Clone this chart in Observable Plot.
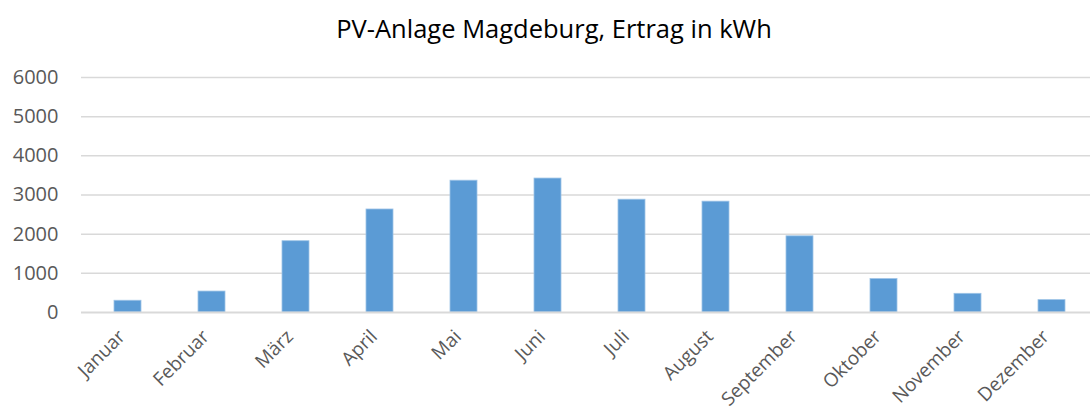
<!DOCTYPE html>
<html>
<head>
<meta charset="utf-8">
<script src="https://cdn.jsdelivr.net/npm/d3@7"></script>
<script src="https://cdn.jsdelivr.net/npm/@observablehq/plot@0.6"></script>
<style>
  html, body { margin: 0; padding: 0; background: #fff; overflow: hidden; }
  #title { height: 60px; width: 1090px; font-family: "Open Sans", sans-serif; font-size: 25.5px; color: #000;
           text-align: center; box-sizing: border-box; padding-left: 18px; line-height: 56px; }
  #chart svg { display: block; }
</style>
</head>
<body>
<div id="title">PV-Anlage Magdeburg, Ertrag in kWh</div>
<div id="chart"></div>
<script>
const months = ["Januar","Februar","März","April","Mai","Juni","Juli","August","September","Oktober","November","Dezember"];
const ertrag = [300, 535, 1820, 2630, 3365, 3420, 2880, 2830, 1945, 853, 477, 316];
const yTicks = [0, 1000, 2000, 3000, 4000, 5000, 6000];

const data = months.map((m, i) => ({month: m, value: ertrag[i]}));

const chart = Plot.plot({
  width: 1090,
  height: 356,
  marginLeft: 81,
  marginRight: -7,
  marginTop: 17,
  marginBottom: 104,
  style: {fontFamily: "'Open Sans', sans-serif", color: "#595959", background: "#fff"},
  x: {domain: months, paddingInner: 0.68, paddingOuter: 0.34, label: null},
  y: {domain: [0, 6000], ticks: yTicks, label: null},
  marks: [
    Plot.gridY(yTicks.filter(d => d > 0), {stroke: "#d9d9d9", strokeOpacity: 1, strokeWidth: 1.5}),
    Plot.barY(data, {x: "month", y: "value", fill: "#5b9bd5", stroke: "#9dc3e6", strokeWidth: 0.8}),
    Plot.ruleY([0], {stroke: "#d9d9d9", strokeWidth: 2}),
    Plot.axisY({ticks: yTicks, tickFormat: d => String(d), tickSize: 0, tickPadding: 23, fontSize: 20, fill: "#595959", label: null}),
    Plot.axisX({tickSize: 0, tickRotate: -45, tickPadding: 21, fontSize: 19, fill: "#595959", label: null, dx: -6})
  ]
});
document.getElementById("chart").appendChild(chart);
</script>
</body>
</html>
